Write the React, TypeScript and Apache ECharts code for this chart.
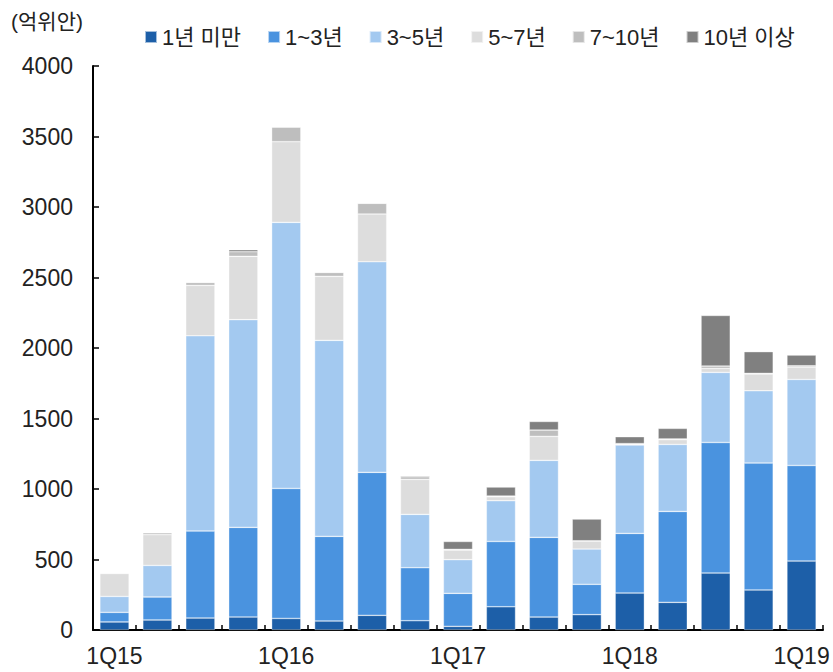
import React, { useEffect, useRef } from "react";
import * as echarts from "echarts";

const categories = [
  "1Q15", "2Q15", "3Q15", "4Q15",
  "1Q16", "2Q16", "3Q16", "4Q16",
  "1Q17", "2Q17", "3Q17", "4Q17",
  "1Q18", "2Q18", "3Q18", "4Q18",
  "1Q19",
];

const seriesNames = ["1년 미만", "1~3년", "3~5년", "5~7년", "7~10년", "10년 이상"];

const under1 = [57, 71, 85, 92, 82, 64, 104, 66, 26, 165, 92, 109, 262, 196, 404, 284, 489];
const y1to3 = [68, 163, 617, 636, 922, 600, 1014, 376, 234, 463, 565, 215, 423, 645, 926, 900, 678];
const y3to5 = [113, 224, 1385, 1473, 1887, 1390, 1494, 378, 239, 289, 546, 250, 627, 475, 497, 513, 610];
const y5to7 = [163, 218, 357, 449, 572, 454, 338, 248, 68, 28, 170, 57, 5, 34, 28, 119, 88];
const y7to10 = [3, 14, 21, 33, 104, 28, 76, 19, 5, 5, 45, 2, 5, 5, 17, 4, 9];
const over10 = [0, 0, 0, 14, 0, 0, 0, 7, 56, 64, 61, 154, 49, 75, 359, 154, 76];

const seriesData = [under1, y1to3, y3to5, y5to7, y7to10, over10];
const colors = ["#1D5FA8", "#4A93DF", "#A3C9F0", "#DDDDDD", "#BEBEBE", "#808080"];

const yTicks = { min: 0, max: 4000, interval: 500 };
const unitLabel = "(억위안)";

const FONT = "'Liberation Sans', Arial, 'Noto Sans CJK KR', sans-serif";

export default function App() {
  const ref = useRef<HTMLDivElement>(null);

  useEffect(() => {
    if (!ref.current) return;
    const chart = echarts.init(ref.current, undefined, { renderer: "svg" });
    chart.setOption({
      animation: false,
      backgroundColor: "#ffffff",
      title: {
        text: unitLabel,
        left: 6,
        top: 6,
        textStyle: { fontFamily: FONT, fontSize: 21, fontWeight: "normal", color: "#222" },
      },
      legend: {
        data: seriesNames,
        left: 139,
        top: 21,
        itemWidth: 12,
        itemHeight: 12,
        itemGap: 26,
        icon: "rect",
        textStyle: { fontFamily: FONT, fontSize: 22, color: "#222", padding: [0, 0, 0, 0] },
      },
      grid: { left: 93, right: 10, top: 66, bottom: 42, containLabel: false },
      xAxis: {
        type: "category",
        data: categories,
        axisLine: { lineStyle: { color: "#000", width: 2 } },
        axisTick: { show: true, inside: true, length: 5, interval: 0, lineStyle: { color: "#000", width: 1.5 } },
        axisLabel: { interval: 3, margin: 14, fontFamily: FONT, fontSize: 23, color: "#222" },
      },
      yAxis: {
        type: "value",
        min: yTicks.min,
        max: yTicks.max,
        interval: yTicks.interval,
        splitLine: { show: false },
        axisLine: { show: true, lineStyle: { color: "#000", width: 2 } },
        axisTick: { show: true, inside: true, length: 6, lineStyle: { color: "#000", width: 1.5 } },
        axisLabel: {
          margin: 20,
          fontFamily: FONT,
          fontSize: 23,
          color: "#222",
          formatter: (v: number) => String(v),
        },
      },
      series: seriesNames.map((name, i) => ({
        name,
        type: "bar",
        stack: "total",
        data: seriesData[i],
        barCategoryGap: "32%",
        itemStyle: { color: colors[i], borderColor: "rgba(255,255,255,0.6)", borderWidth: 0.6 },
      })),
    });
    return () => chart.dispose();
  }, []);

  return <div ref={ref} style={{ width: 833, height: 672, position: "absolute", left: 0, top: 0 }} />;
}
